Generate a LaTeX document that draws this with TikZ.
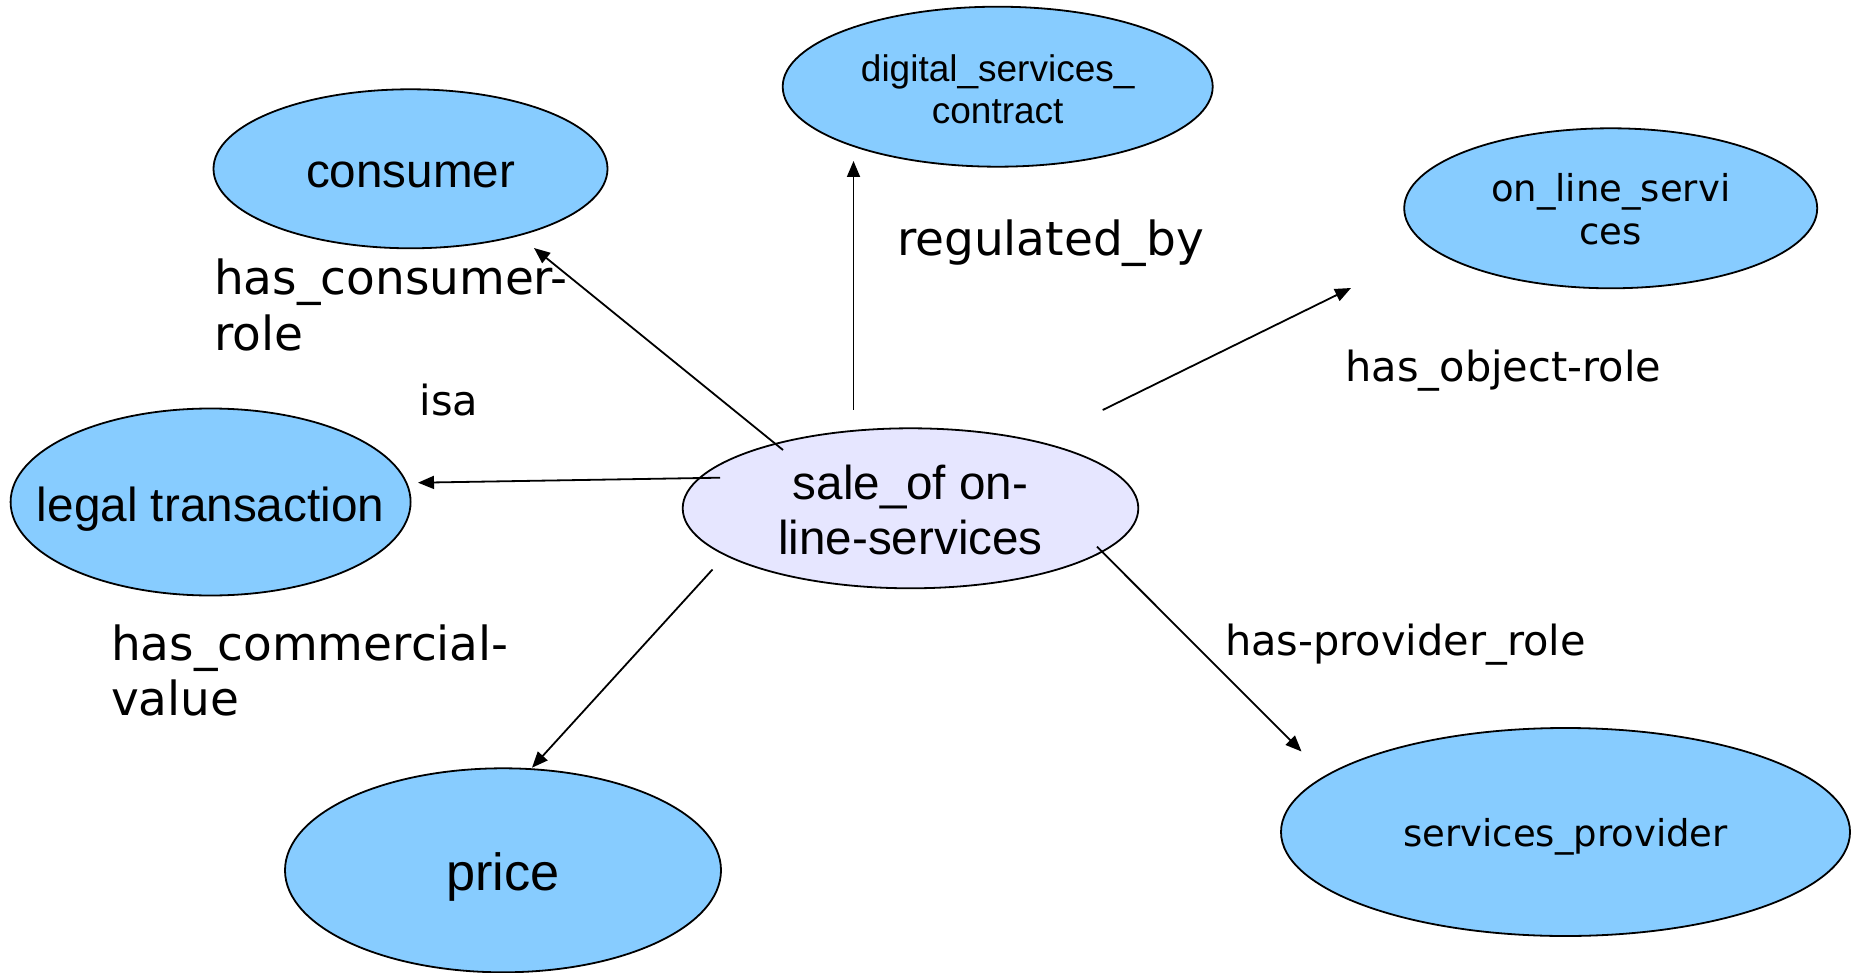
\documentclass[tikz,border=0pt]{standalone}
\usepackage{fontspec}
\setmainfont{Liberation Sans}
\newfontfamily\dejavu{DejaVu Sans}
\usetikzlibrary{shapes.geometric,arrows.meta}
\definecolor{nodeblue}{RGB}{135,204,255}
\definecolor{centerfill}{RGB}{230,230,255}
\begin{document}
\begin{tikzpicture}[x=1pt,y=-1pt,
  ell/.style={ellipse, draw=black, line width=1.8pt, fill=nodeblue, inner sep=0pt, outer sep=0pt, align=center},
  rel/.style={line width=1.8pt, -{Triangle[length=16pt,width=13pt]}},
  biglbl/.style={font=\dejavu\fontsize{47}{55}\selectfont, inner sep=0pt, outer sep=0pt, align=left},
  smalllbl/.style={font=\dejavu\fontsize{41.5}{50}\selectfont, inner sep=0pt, outer sep=0pt}
]
\useasboundingbox (0,0) rectangle (1851,973);

% nodes
\node[ell, minimum width=394pt, minimum height=159pt, font=\fontsize{47.6}{55}\selectfont] (consumer) at (410.5,168.8) {\rule{0pt}{37pt}consumer};
\node[ell, minimum width=430pt, minimum height=160pt, font=\fontsize{37}{42}\selectfont] (digital) at (997.7,86.7) {\rule{0pt}{33.7pt}digital\_services\_\\contract\rule[-2pt]{0pt}{2pt}};
\node[ell, minimum width=413pt, minimum height=160pt, font=\dejavu\fontsize{37}{43.3}\selectfont] (online) at (1610.7,208.3) {\rule{0pt}{30.1pt}on\_line\_servi\\ces};
\node[ell, minimum width=400pt, minimum height=187pt, inner xsep=-40pt, font=\fontsize{47.7}{55}\selectfont] (legal) at (210.6,502) {\rule[-10pt]{0pt}{59.4pt}legal transaction};
\node[ell, fill=centerfill, minimum width=455.6pt, minimum height=160pt, font=\fontsize{47.6}{55}\selectfont] (sale) at (910.5,508.3) {\rule{0pt}{41.4pt}sale\_of on-\\line-services\rule[-5pt]{0pt}{5pt}};
\node[ell, minimum width=436pt, minimum height=204pt, font=\fontsize{52.3}{60}\selectfont] (price) at (503,870.3) {\rule[-12pt]{0pt}{63.4pt}price};
\node[ell, minimum width=569pt, minimum height=208pt, font=\dejavu\fontsize{37}{42}\selectfont] (provider) at (1565.5,832) {\rule[-10pt]{0pt}{49.4pt}services\_provider};

% relation labels
\node[biglbl, anchor=north west] (lconsumer) at (214,255) {\rule{0pt}{40pt}has\_consumer-\\role};
\node[biglbl, anchor=base west] (lregulated) at (897,256) {regulated\_by};
\node[smalllbl, anchor=base west] (lisa) at (419.5,415.5) {isa};
\node[smalllbl, anchor=base west] (lobject) at (1345.5,381.5) {has\_object-role};
\node[biglbl, anchor=north west] (lcommercial) at (111,620) {\rule{0pt}{40pt}has\_commercial-\\value};
\node[smalllbl, anchor=base west] (lprovider) at (1225,655) {has-provider\_role};

% connector end points
\coordinate (c1s) at (783,450);
\coordinate (c1e) at (534,248);
\coordinate (c2s) at (853.5,409.5);
\coordinate (c2e) at (853.5,161);
\coordinate (c3s) at (1102.7,410);
\coordinate (c3e) at (1351,288);
\coordinate (c4s) at (720,477.7);
\coordinate (c4e) at (418,482.7);
\coordinate (c5s) at (712.5,569.5);
\coordinate (c5e) at (532,767.7);
\coordinate (c6s) at (1097,546.7);
\coordinate (c6e) at (1301.5,751.5);

\draw[rel] (c1s) -- (c1e);
\draw[rel] (c2s) -- (c2e);
\draw[rel] (c3s) -- (c3e);
\draw[rel] (c4s) -- (c4e);
\draw[rel] (c5s) -- (c5e);
\draw[rel] (c6s) -- (c6e);
\end{tikzpicture}
\end{document}
